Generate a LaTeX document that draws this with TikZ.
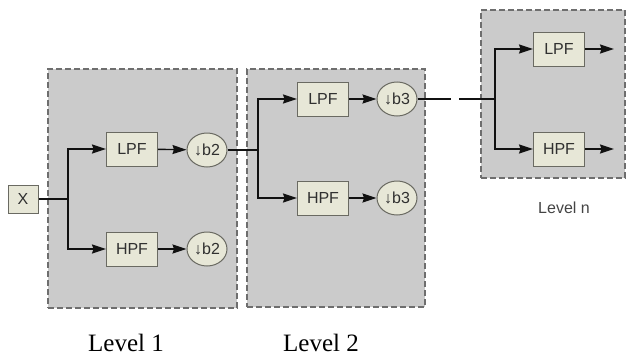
\documentclass[tikz,border=0pt]{standalone}
\usepackage{fontspec}
\setmainfont{Liberation Serif}
\newfontfamily\diagsans{Liberation Sans}
\usetikzlibrary{arrows.meta,shapes.geometric}
\definecolor{panelgray}{HTML}{CBCBCB}
\definecolor{dashgray}{HTML}{6E6E6E}
\definecolor{boxfill}{HTML}{E7E7D7}
\definecolor{boxline}{HTML}{6A6A62}
\definecolor{ink}{HTML}{111111}
\definecolor{muted}{HTML}{444444}
\tikzset{
  panel/.style={draw=dashgray,fill=panelgray,dash pattern=on 6pt off 3pt,line width=1.1pt,inner sep=0pt},
  filter/.style={draw=boxline,fill=boxfill,line width=1pt,minimum width=51pt,minimum height=34pt,inner sep=0pt,font=\diagsans\fontsize{16}{19}\selectfont,text=muted!70!black},
  down/.style={ellipse,draw=boxline,fill=boxfill,line width=1pt,minimum width=40pt,minimum height=34pt,inner sep=0pt,font=\diagsans\fontsize{16}{19}\selectfont,text=muted!70!black},
  wire/.style={line width=1.4pt,color=ink},
  arrow/.style={wire,-{Stealth[length=14pt,width=9pt,inset=1.5pt]}},
  levellbl/.style={font=\fontsize{25}{28}\selectfont,text=black},
  nlbl/.style={font=\diagsans\fontsize{16}{19}\selectfont,text=muted},
}
\begin{document}
\begin{tikzpicture}[x=1pt,y=1pt]
  \useasboundingbox (0,0) rectangle (628,-356);
  % panels
  \node[panel,minimum width=189pt,minimum height=239pt] (p1) at (142.5,-188.5) {};
  \node[panel,minimum width=178pt,minimum height=238pt] (p2) at (336,-188) {};
  \node[panel,minimum width=144pt,minimum height=168pt] (pn) at (553,-94) {};
  % level 1
  \node[filter,minimum width=30pt,minimum height=28pt] (x) at (23,-199) {X};
  \node[filter] (lpf1) at (132,-149) {LPF};
  \node[filter] (hpf1) at (132,-249) {HPF};
  \node[down] (dla) at (207,-150) {↓b2};
  \node[down] (dlb) at (207,-249) {↓b2};
  \coordinate (j1) at (68,-199);
  \draw[wire] (x.east) -- (j1);
  \draw[arrow] (j1) |- (lpf1.west);
  \draw[arrow] (j1) |- (hpf1.west);
  \draw[arrow] (lpf1) -- (dla);
  \draw[arrow] (hpf1) -- (dlb);
  % level 2
  \node[filter] (lpf2) at (323,-99) {LPF};
  \node[filter] (hpf2) at (323,-198) {HPF};
  \node[down] (dma) at (397,-99) {↓b3};
  \node[down] (dmb) at (397,-198) {↓b3};
  \coordinate (j2) at (258,-150);
  \draw[wire] (dla.east) -- (j2);
  \draw[arrow] (j2) |- (lpf2.west);
  \draw[arrow] (j2) |- (hpf2.west);
  \draw[arrow] (lpf2) -- (dma);
  \draw[arrow] (hpf2) -- (dmb);
  % level n
  \node[filter] (lpfn) at (559,-49) {LPF};
  \node[filter] (hpfn) at (559,-149) {HPF};
  \coordinate (gapa) at (451,-99);
  \coordinate (gapb) at (459,-99);
  \coordinate (jn) at (495,-99);
  \coordinate (outa) at (614,-49);
  \coordinate (outb) at (614,-149);
  \draw[wire] (dma.east) -- (gapa);
  \draw[wire] (gapb) -- (jn);
  \draw[arrow] (jn) |- (lpfn.west);
  \draw[arrow] (jn) |- (hpfn.west);
  \draw[arrow] (lpfn) -- (outa);
  \draw[arrow] (hpfn) -- (outb);
  % labels
  \node[nlbl] (lvn) at (564,-208) {Level n};
  \node[levellbl] (lv1) at (126,-343) {Level 1};
  \node[levellbl] (lv2) at (321,-343) {Level 2};
\end{tikzpicture}
\end{document}
